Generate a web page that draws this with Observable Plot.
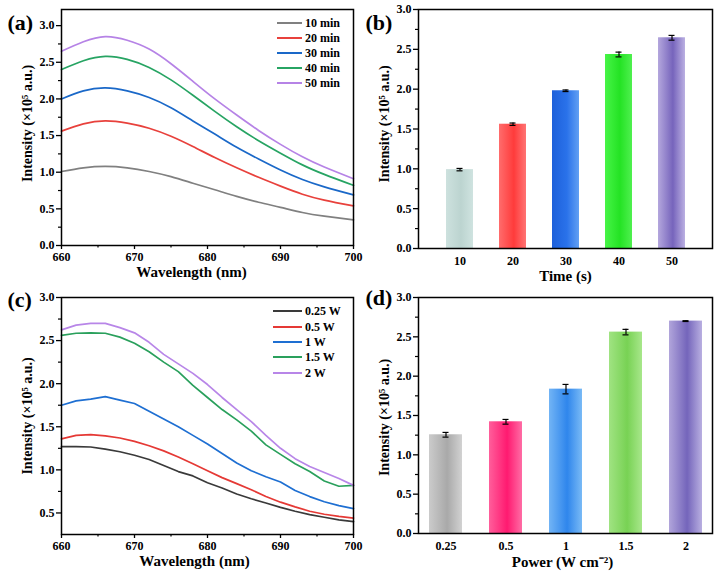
<!DOCTYPE html>
<html><head><meta charset="utf-8">
<script src="https://cdn.jsdelivr.net/npm/d3@7"></script>
<script src="https://cdn.jsdelivr.net/npm/@observablehq/plot@0.6"></script>
<style>
body{margin:0;background:#fff;}
#wrap{position:relative;width:717px;height:572px;overflow:hidden;background:#fff;font-family:"Liberation Serif","Times New Roman",serif;font-weight:bold;}
.leg{position:absolute;font-size:12px;white-space:nowrap;line-height:12px;height:12px;display:flex;align-items:center;}
.leg span.sw{display:inline-block;height:2px;margin-right:3px;}
</style></head><body><div id="wrap"></div>
<script>
// ---------- Panel (a): spectra vs irradiation time ----------
const wavelengthA = [660,663,666,669,672,675,678,681,684,687,690,693,696,700];
const seriesA = ["10 min","20 min","30 min","40 min","50 min"];
const colorsA = ["#808080","#e8413c","#1a68c8","#27a463","#b683e6"];
const intensityA10 = [1.01,1.06,1.08,1.06,1.01,0.94,0.85,0.76,0.67,0.59,0.52,0.45,0.40,0.35];
const intensityA20 = [1.56,1.66,1.70,1.67,1.60,1.49,1.35,1.20,1.06,0.93,0.81,0.70,0.62,0.54];
const intensityA30 = [2.00,2.11,2.15,2.11,2.02,1.88,1.70,1.52,1.34,1.18,1.03,0.90,0.80,0.69];
const intensityA40 = [2.40,2.52,2.58,2.54,2.43,2.26,2.05,1.83,1.62,1.43,1.26,1.10,0.97,0.82];
const intensityA50 = [2.65,2.78,2.85,2.80,2.68,2.48,2.24,2.00,1.78,1.57,1.38,1.21,1.07,0.91];

// ---------- Panel (b): bars vs time ----------
const timeLabels = ["10","20","30","40","50"];
const timeValues = [0.99,1.56,1.98,2.435,2.645];
const timeErrors = [0.015,0.015,0.01,0.03,0.03];
const timeGradients = [
  ["#cde1de","#bcd4d0","#cfe3e0"],
  ["#ff6c6c","#ff3b3b","#ff7474"],
  ["#1d60da","#2a72ea","#62a0f3"],
  ["#47f447","#24e324","#4ff04f"],
  ["#b4a7dd","#7664bc","#bbb0e2"]
];

// ---------- Panel (c): spectra vs power ----------
const wavelengthC = [660,662,664,666,668,670,672,674,676,678,680,682,684,686,688,690,692,694,696,698,700];
const seriesC = ["0.25 W","0.5 W","1 W","1.5 W","2 W"];
const colorsC = ["#3a3a3a","#e53935","#1e6fd2","#2aa05c","#b886e8"];
const intensityC025 = [1.27,1.27,1.265,1.24,1.21,1.17,1.12,1.05,0.98,0.93,0.85,0.79,0.72,0.665,0.615,0.565,0.52,0.48,0.45,0.42,0.40];
const intensityC05  = [1.36,1.40,1.41,1.395,1.37,1.33,1.28,1.22,1.15,1.07,0.99,0.91,0.84,0.77,0.69,0.625,0.57,0.52,0.485,0.46,0.44];
const intensityC1   = [1.75,1.80,1.82,1.85,1.81,1.77,1.68,1.59,1.50,1.40,1.30,1.19,1.08,0.99,0.92,0.86,0.76,0.69,0.63,0.585,0.55];
const intensityC15  = [2.56,2.585,2.59,2.585,2.54,2.47,2.37,2.25,2.14,1.98,1.84,1.70,1.58,1.45,1.29,1.18,1.07,0.98,0.87,0.81,0.82];
const intensityC2   = [2.625,2.68,2.70,2.70,2.65,2.59,2.48,2.34,2.23,2.12,1.99,1.84,1.70,1.56,1.40,1.25,1.13,1.04,0.97,0.90,0.82];

// ---------- Panel (d): bars vs power ----------
const powerLabels = ["0.25","0.5","1","1.5","2"];
const powerValues = [1.255,1.42,1.835,2.56,2.70];
const powerErrors = [0.03,0.03,0.06,0.035,0.005];
const powerGradients = [
  ["#cbcbcb","#a9a9a9","#d2d2d2"],
  ["#ff5e9b","#ff1a70","#ff6ca5"],
  ["#72b4f5","#2f86ec","#79baf6"],
  ["#a0e382","#78d254","#a8e78b"],
  ["#b1a5db","#7465bb","#b9afe1"]
];

// ---------- Ticks ----------
const wlMajor = [660,670,680,690,700];
const wlMinor = [665,675,685,695];
const yMajorFull = [0,0.5,1.0,1.5,2.0,2.5,3.0];
const yMinorFull = [0.25,0.75,1.25,1.75,2.25,2.75];
const yMajorC = [0.5,1.0,1.5,2.0,2.5,3.0];
const yMinorC = [0.75,1.25,1.75,2.25,2.75];

const yLabel = "Intensity (×10⁵ a.u.)";
const FONT = '"Liberation Serif","Times New Roman",serif';
const wrap = document.getElementById("wrap");
const fmt = d3.format(".1f");

function place(svg, left, top) {
  svg.style.position = "absolute";
  svg.style.left = left + "px";
  svg.style.top = top + "px";
  svg.style.maxWidth = "none";
  svg.style.overflow = "visible";
  wrap.appendChild(svg);
  return svg;
}
const baseStyle = {background: "transparent", fontFamily: FONT, fontWeight: "bold", fontSize: "12px", color: "black"};

function tidy(xs, names, arrays) {
  const out = [];
  names.forEach((n, i) => xs.forEach((x, j) => out.push({series: n, wl: x, v: arrays[i][j]})));
  return out;
}

function axesMarks(yMajor, yMinor, xMajor, xMinor) {
  const m = [
    Plot.axisY(yMajor, {tickSize: 5, tickPadding: 2, tickFormat: fmt, label: null, strokeWidth: 1.3, fontSize: 12}),
    Plot.axisY(yMinor, {tickSize: 3, tickFormat: () => "", label: null, strokeWidth: 1.2})
  ];
  if (xMajor) {
    m.push(Plot.axisX(xMajor, {tickSize: 4, tickPadding: 3, label: null, strokeWidth: 1.3, fontSize: 12}));
    m.push(Plot.axisX(xMinor, {tickSize: 2.5, tickFormat: () => "", label: null, strokeWidth: 1.2}));
  }
  return m;
}

function linePanel(opts) {
  const data = tidy(opts.xs, opts.names, opts.arrays);
  const svg = Plot.plot({
    width: 370, height: 290,
    marginLeft: 61, marginRight: 17, marginTop: opts.mt, marginBottom: opts.mb,
    style: baseStyle,
    x: {domain: [660, 700]},
    y: {domain: opts.yDomain},
    color: {domain: opts.names, range: opts.colors},
    marks: [
      Plot.line(data, {x: "wl", y: "v", z: "series", stroke: "series", strokeWidth: 1.7, curve: opts.curve}),
      ...axesMarks(opts.yMajor, opts.yMinor, wlMajor, wlMinor),
      Plot.frame({stroke: "black", strokeWidth: 1.5}),
      Plot.text(["Wavelength (nm)"], {frameAnchor: "bottom", dy: opts.xLabDy, dx: opts.xLabDx, fontSize: 15, textAnchor: "middle", lineAnchor: "middle"}),
      Plot.text([yLabel], {frameAnchor: "left", rotate: -90, dx: -34, dy: opts.yLabDy, fontSize: 14, textAnchor: "middle", lineAnchor: "middle"}),
      Plot.text([opts.tag], {frameAnchor: "top-left", dx: -54, dy: opts.tagDy, fontSize: 22, textAnchor: "start", lineAnchor: "middle"})
    ]
  });
  place(svg, opts.left, opts.top);
}

function barPanel(opts) {
  const data = opts.labels.map((c, i) => ({cat: c, v: opts.values[i], e: opts.errors[i], g: `url(#${opts.id}-${i})`}));
  const svg = Plot.plot({
    width: 359, height: 290,
    marginLeft: 60, marginRight: 5, marginTop: opts.mt, marginBottom: opts.mb,
    style: baseStyle,
    x: {domain: opts.labels, paddingInner: opts.pi, paddingOuter: opts.po},
    y: {domain: [0, 3]},
    color: {type: "identity"},
    marks: [
      Plot.barY(data, {x: "cat", y: "v", fill: "g"}),
      Plot.ruleX(data, {x: "cat", y1: d => d.v - d.e, y2: d => d.v + d.e, stroke: "black", strokeWidth: 1.2}),
      Plot.tickY(data, {x: "cat", y: d => d.v + d.e, insetLeft: opts.capInset, insetRight: opts.capInset, stroke: "black", strokeWidth: 1.2}),
      Plot.tickY(data, {x: "cat", y: d => d.v - d.e, insetLeft: opts.capInset, insetRight: opts.capInset, stroke: "black", strokeWidth: 1.2}),
      ...axesMarks(yMajorFull, yMinorFull),
      Plot.axisX({tickSize: 0, tickPadding: 8, label: null, fontSize: 12}),
      Plot.frame({stroke: "black", strokeWidth: 1.5}),
      Plot.text([opts.xLabel], {frameAnchor: "bottom", dy: opts.xLabDy, dx: opts.xLabDx, fontSize: 15, textAnchor: "middle", lineAnchor: "middle"}),
      Plot.text([yLabel], {frameAnchor: "left", rotate: -90, dx: -33.5, dy: opts.yLabDy, fontSize: 14, textAnchor: "middle", lineAnchor: "middle"}),
      Plot.text([opts.tag], {frameAnchor: "top-left", dx: -53, dy: opts.tagDy, fontSize: 22, textAnchor: "start", lineAnchor: "middle"})
    ]
  });
  const defs = d3.select(svg).insert("defs", ":first-child");
  opts.gradients.forEach((g, i) => {
    const lg = defs.append("linearGradient").attr("id", `${opts.id}-${i}`).attr("x1", "0").attr("x2", "1").attr("y1", "0").attr("y2", "0");
    lg.append("stop").attr("offset", "0").attr("stop-color", g[0]);
    lg.append("stop").attr("offset", "0.55").attr("stop-color", g[1]);
    lg.append("stop").attr("offset", "1").attr("stop-color", g[2]);
  });
  place(svg, opts.left, opts.top);
}

function legend(names, colors, x, y0, step, lineW) {
  names.forEach((n, i) => {
    const d = document.createElement("div");
    d.className = "leg";
    d.style.left = x + "px";
    d.style.top = (y0 + i * step - 6) + "px";
    d.innerHTML = `<span class="sw" style="width:${lineW}px;background:${colors[i]}"></span>${n}`;
    wrap.appendChild(d);
  });
}

linePanel({left: 0, top: 0, mt: 9, mb: 45, xs: wavelengthA, names: seriesA, colors: colorsA,
  arrays: [intensityA10, intensityA20, intensityA30, intensityA40, intensityA50],
  yDomain: [0, 3.22], yMajor: yMajorFull, yMinor: yMinorFull, curve: "natural",
  xLabDy: 27, xLabDx: -16, yLabDy: -4, tag: "(a)", tagDy: 13});

barPanel({left: 358, top: 0, mt: 9, mb: 42, id: "gb", labels: timeLabels, values: timeValues, errors: timeErrors,
  gradients: timeGradients, pi: 0.5, po: 0.5, capInset: 10.5, xLabel: "Time (s)", xLabDy: 28, xLabDx: 0, yLabDy: -5, tag: "(b)", tagDy: 13});

linePanel({left: 0, top: 282, mt: 15, mb: 38, xs: wavelengthC, names: seriesC, colors: colorsC,
  arrays: [intensityC025, intensityC05, intensityC1, intensityC15, intensityC2],
  yDomain: [0.25, 3.0], yMajor: yMajorC, yMinor: yMinorC, curve: "linear",
  xLabDy: 27, xLabDx: -13, yLabDy: 0, tag: "(c)", tagDy: 2});

barPanel({left: 358, top: 282, mt: 15, mb: 39, id: "gd", labels: powerLabels, values: powerValues, errors: powerErrors,
  gradients: powerGradients, pi: 0.45, po: 0.165, capInset: 13.5, xLabel: "Power (W cm⁻²)", xLabDy: 29, xLabDx: -3, yLabDy: 2, tag: "(d)", tagDy: 0});

legend(seriesA, colorsA, 277, 22.7, 15.1, 25);
legend(seriesC, colorsC, 273, 311.3, 15.35, 29);
</script></body></html>
